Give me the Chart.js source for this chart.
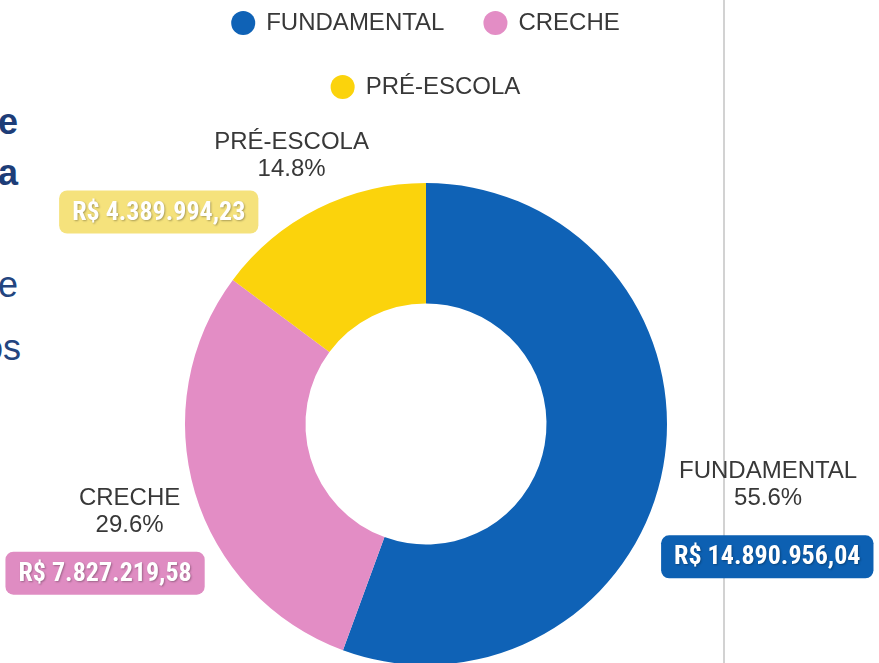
<!DOCTYPE html>
<html>
<head>
<meta charset="utf-8">
<script src="https://cdn.jsdelivr.net/npm/chart.js@4.4.0/dist/chart.umd.min.js"></script>
<style>
  body { margin: 0; width: 879px; height: 663px; overflow: hidden; background: #fff; position: relative; }
  #wrap { position: absolute; left: 0; top: -29px; width: 879px; height: 768px; }
  .frag { position: absolute; font-family: "Liberation Sans", Arial, sans-serif; font-size: 36px; line-height: 36px; color: #23457f; }
  .divider { position: absolute; left: 723px; top: 0; width: 2px; height: 663px; background: #d2d2d2; }
</style>
</head>
<body>
<!-- bits of the neighbouring page text, cut off at the left edge -->
<div class="frag" style="left:-2px; top:104px; font-weight:bold; color:#1d3d78;">e</div>
<div class="frag" style="left:-2px; top:155px; font-weight:bold; color:#1d3d78;">a</div>
<div class="frag" style="left:-2px; top:267px;">e</div>
<div class="frag" style="left:-17px; top:330px;">os</div>
<div class="divider"></div>
<div id="wrap"><canvas id="donut"></canvas></div>
<script>
const categories = ["FUNDAMENTAL", "CRECHE", "PRÉ-ESCOLA"];
const shares = [55.6, 29.6, 14.8];
const amounts = ["R$ 14.890.956,04", "R$ 7.827.219,58", "R$ 4.389.994,23"];

const sliceColors = ["#0f62b6", "#e38dc5", "#fbd30c"];
const boxColors = ["#0d60b2", "#df8cc2", "#f5e27c"];

// small hand tweaks for the annotation placement (radial px, box dx/dy px)
const labelNudge = [2, 0, -12];
const boxNudge = [[-2, 10], [4, -1], [-17, -6]];

const labelFont = '24px "Liberation Sans", Arial, sans-serif';
const amountFont = 'bold 26px "Liberation Sans Narrow", "Arial Narrow", "Roboto Condensed", Roboto, sans-serif';

// name + share outside each slice, with the amount in a rounded box below
const outsideLabels = {
  id: "outsideLabels",
  afterDatasetsDraw(chart) {
    const ctx = chart.ctx;
    const meta = chart.getDatasetMeta(0);
    meta.data.forEach((arc, i) => {
      const p = arc.getProps(["x", "y", "startAngle", "endAngle", "outerRadius"], true);
      const mid = (p.startAngle + p.endAngle) / 2;
      const dx = Math.cos(mid);
      const dy = Math.sin(mid);
      const name = categories[i];
      const pct = shares[i].toFixed(1) + "%";

      ctx.save();
      ctx.font = labelFont;
      const w = Math.max(ctx.measureText(name).width, ctx.measureText(pct).width);
      const h = 54;
      const d = p.outerRadius + 12 + labelNudge[i] + Math.abs(dx) * w / 2 + Math.abs(dy) * h / 2;
      const tx = p.x + dx * d;
      const ty = p.y + dy * d;
      ctx.fillStyle = "#383838";
      ctx.textAlign = "center";
      ctx.textBaseline = "middle";
      ctx.fillText(name, tx, ty - 13.5);
      ctx.fillText(pct, tx, ty + 13.5);

      // amount box
      ctx.font = amountFont;
      const bw = ctx.measureText(amounts[i]).width + 26;
      const bh = 43;
      const by = ty + 62 + boxNudge[i][1];
      let bx = tx;
      const off = by - p.y;
      if (Math.abs(off) < p.outerRadius) {
        const half = Math.sqrt(p.outerRadius * p.outerRadius - off * off);
        if (dx < 0) {
          const maxRight = p.x - half - 36;
          if (bx + bw / 2 > maxRight) bx = maxRight - bw / 2;
        } else {
          const minLeft = p.x + half + 36;
          if (bx - bw / 2 < minLeft) bx = minLeft + bw / 2;
        }
      }
      bx += boxNudge[i][0];
      ctx.fillStyle = boxColors[i];
      ctx.beginPath();
      ctx.roundRect(bx - bw / 2, by - bh / 2, bw, bh, 8);
      ctx.fill();
      ctx.shadowColor = "rgba(0,0,0,0.3)";
      ctx.shadowBlur = 2;
      ctx.shadowOffsetX = 1;
      ctx.shadowOffsetY = 1;
      ctx.fillStyle = "#ffffff";
      ctx.fillText(amounts[i], bx, by + 1);
      ctx.restore();
    });
  }
};

new Chart(document.getElementById("donut").getContext("2d"), {
  type: "doughnut",
  data: {
    labels: categories,
    datasets: [{
      data: shares,
      backgroundColor: sliceColors,
      borderWidth: 0,
      hoverOffset: 0
    }]
  },
  options: {
    responsive: true,
    maintainAspectRatio: false,
    animation: false,
    cutout: "50%",
    layout: { padding: { left: 185, right: 212, top: 0, bottom: 0 } },
    plugins: {
      legend: {
        position: "top",
        labels: {
          usePointStyle: true,
          pointStyle: "circle",
          boxWidth: 22,
          boxHeight: 17,
          padding: 40,
          color: "#383838",
          font: { size: 24, family: '"Liberation Sans", Arial, sans-serif' }
        }
      },
      tooltip: { enabled: false }
    }
  },
  plugins: [outsideLabels]
});
</script>
</body>
</html>
